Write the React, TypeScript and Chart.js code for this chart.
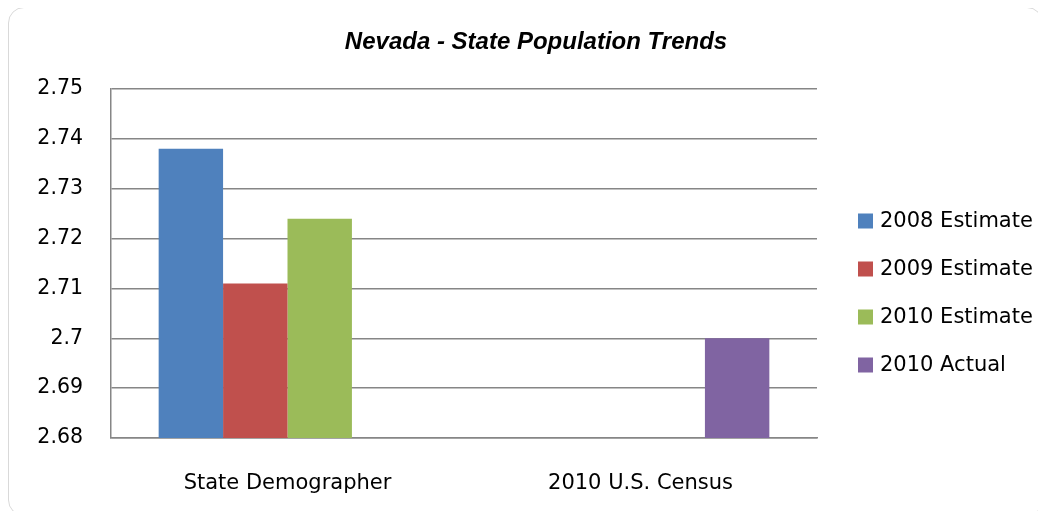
import React, { useEffect, useRef } from "react";
import { Chart, registerables } from "chart.js";

Chart.register(...registerables);

const categories = ["State Demographer", "2010 U.S. Census"];
const seriesNames = ["2008 Estimate", "2009 Estimate", "2010 Estimate", "2010 Actual"];
const est2008 = [2.738, null];
const est2009 = [2.711, null];
const est2010 = [2.724, null];
const actual2010 = [null, 2.7];
const seriesColors = ["#4F81BD", "#C0504D", "#9BBB59", "#8064A2"];
const yMin = 2.68;
const yMax = 2.75;
const yStep = 0.01;
const title = "Nevada - State Population Trends";

const LABEL_FONT = "DejaVu Sans";

const titlePlugin = {
  id: "customTitle",
  afterDraw(chart: any) {
    const { ctx, chartArea } = chart;
    ctx.save();
    ctx.font = "bold italic 24px 'Liberation Sans', Arial, sans-serif";
    ctx.fillStyle = "#000";
    ctx.textAlign = "center";
    ctx.textBaseline = "middle";
    ctx.fillText(title, chart.width / 2 + 13, chartArea.top - 47);
    ctx.restore();
  },
};

const legendPlugin = {
  id: "customLegend",
  afterDraw(chart: any) {
    const { ctx, chartArea } = chart;
    const datasets = chart.data.datasets;
    const x0 = chartArea.right + 41;
    const spacing = 48;
    const midY = (chartArea.top + chartArea.bottom) / 2 + 29.5;
    const startY = midY - ((datasets.length - 1) * spacing) / 2;
    ctx.save();
    ctx.font = `21px '${LABEL_FONT}', sans-serif`;
    ctx.textAlign = "left";
    ctx.textBaseline = "middle";
    datasets.forEach((ds: any, i: number) => {
      const cy = startY + i * spacing;
      ctx.fillStyle = ds.backgroundColor;
      ctx.fillRect(x0, cy - 7.5, 15, 15);
      ctx.fillStyle = "#000";
      ctx.fillText(ds.label, x0 + 22, cy + 1);
    });
    ctx.restore();
  },
};

export default function App() {
  const canvasRef = useRef<HTMLCanvasElement | null>(null);

  useEffect(() => {
    if (!canvasRef.current) return;
    const seriesData = [est2008, est2009, est2010, actual2010];
    const chart = new Chart(canvasRef.current, {
      type: "bar",
      data: {
        labels: categories,
        datasets: seriesNames.map((name, i) => ({
          label: name,
          data: seriesData[i],
          backgroundColor: seriesColors[i],
          borderWidth: 0,
          categoryPercentage: 0.73,
          barPercentage: 1,
        })),
      },
      options: {
        animation: false,
        responsive: false,
        maintainAspectRatio: false,
        layout: { padding: { top: 89, right: 229, bottom: 0, left: 0 } },
        plugins: {
          legend: { display: false },
          title: { display: false },
          tooltip: { enabled: false },
        },
        scales: {
          x: {
            grid: { display: false, drawTicks: false },
            border: { display: true, color: "#868686", width: 1.5 },
            ticks: {
              color: "#000",
              font: { family: LABEL_FONT, size: 21 },
              padding: 33,
            },
            afterFit: (s: any) => {
              s.height = 81;
            },
          },
          y: {
            min: yMin,
            max: yMax,
            grid: { color: "#868686", lineWidth: 1.5, drawTicks: false },
            border: { display: true, color: "#868686", width: 1.5 },
            ticks: {
              stepSize: yStep,
              color: "#000",
              font: { family: LABEL_FONT, size: 20.5 },
              padding: 28,
              callback: (v: any) => String(Number(Number(v).toFixed(2))),
            },
            afterFit: (s: any) => {
              s.width = 111;
            },
          },
        },
      },
      plugins: [titlePlugin, legendPlugin],
    });
    return () => chart.destroy();
  }, []);

  return (
    <div style={{ position: "relative", width: 1046, height: 519, margin: -8, background: "#fff" }}>
      <div
        style={{
          position: "absolute",
          left: 8,
          top: 7,
          width: 1035,
          height: 509,
          boxSizing: "border-box",
          border: "1.5px solid #d9d9d9",
          borderRadius: 16,
        }}
      />
      <canvas
        ref={canvasRef}
        width={1046}
        height={519}
        style={{ position: "absolute", left: 0, top: 0, width: 1046, height: 519 }}
      />
    </div>
  );
}
